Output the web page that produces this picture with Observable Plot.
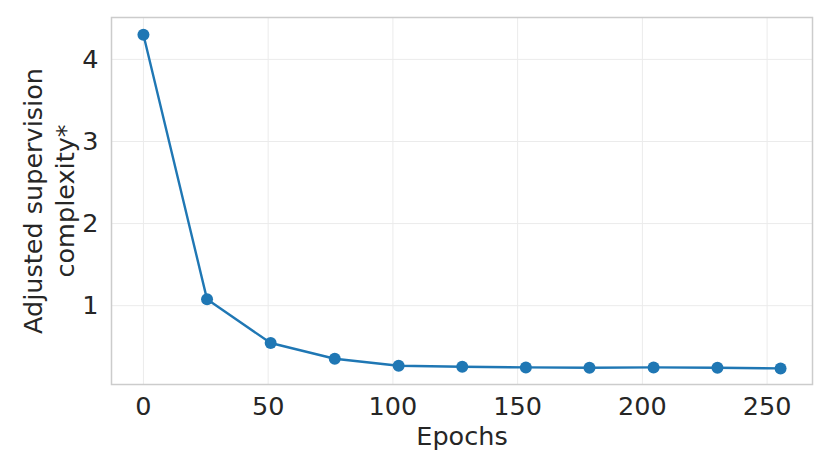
<!DOCTYPE html>
<html>
<head>
<meta charset="utf-8">
<script src="https://cdn.jsdelivr.net/npm/d3@7"></script>
<script src="https://cdn.jsdelivr.net/npm/@observablehq/plot@0.6"></script>
<style>
  html, body { margin: 0; padding: 0; background: #fff; }
  #chart svg { display: block; }
</style>
</head>
<body>
<div id="chart"></div>
<script>
const epochs = [0, 25.5, 51, 76.7, 102.3, 127.8, 153.3, 178.8, 204.5, 230.1, 255.4];
const complexity = [4.30, 1.077, 0.545, 0.354, 0.268, 0.256, 0.248, 0.244, 0.248, 0.244, 0.236];
const xTicks = [0, 50, 100, 150, 200, 250];
const yTicks = [1, 2, 3, 4];
const xLabel = "Epochs";
const yLabel = "Adjusted supervision\ncomplexity*";

const data = epochs.map((e, i) => ({epoch: e, value: complexity[i]}));
const ink = "#262626";
const fs = 25.5;

const chart = Plot.plot({
  width: 830,
  height: 475,
  marginLeft: 111,
  marginTop: 17,
  marginRight: 18,
  marginBottom: 91,
  style: {fontFamily: "DejaVu Sans", fontSize: fs + "px", color: ink, background: "#fff"},
  x: {domain: [-12.8, 268.2], ticks: xTicks, label: null},
  y: {domain: [0.04, 4.51], ticks: yTicks, label: null},
  marks: [
    Plot.gridX(xTicks, {stroke: "#ebebeb", strokeOpacity: 1, strokeWidth: 1}),
    Plot.gridY(yTicks, {stroke: "#ebebeb", strokeOpacity: 1, strokeWidth: 1}),
    Plot.frame({stroke: "#cccccc", strokeWidth: 1.5}),
    Plot.axisX(xTicks, {tickSize: 0, tickPadding: 12, fontSize: fs, fill: ink, label: null, tickFormat: d => String(d)}),
    Plot.axisY(yTicks, {tickSize: 0, tickPadding: 13, fontSize: fs, fill: ink, label: null, tickFormat: d => String(d)}),
    Plot.line(data, {x: "epoch", y: "value", stroke: "#1f77b4", strokeWidth: 2.4}),
    Plot.dot(data, {x: "epoch", y: "value", fill: "#1f77b4", r: 6}),
    Plot.text([xLabel], {frameAnchor: "bottom", dy: 60, fontSize: fs, fill: ink}),
    Plot.text([yLabel], {frameAnchor: "left", textAnchor: "middle", dx: -64, rotate: -90, fontSize: fs, fill: ink, lineHeight: 1.28})
  ]
});
document.getElementById("chart").appendChild(chart);
</script>
</body>
</html>
